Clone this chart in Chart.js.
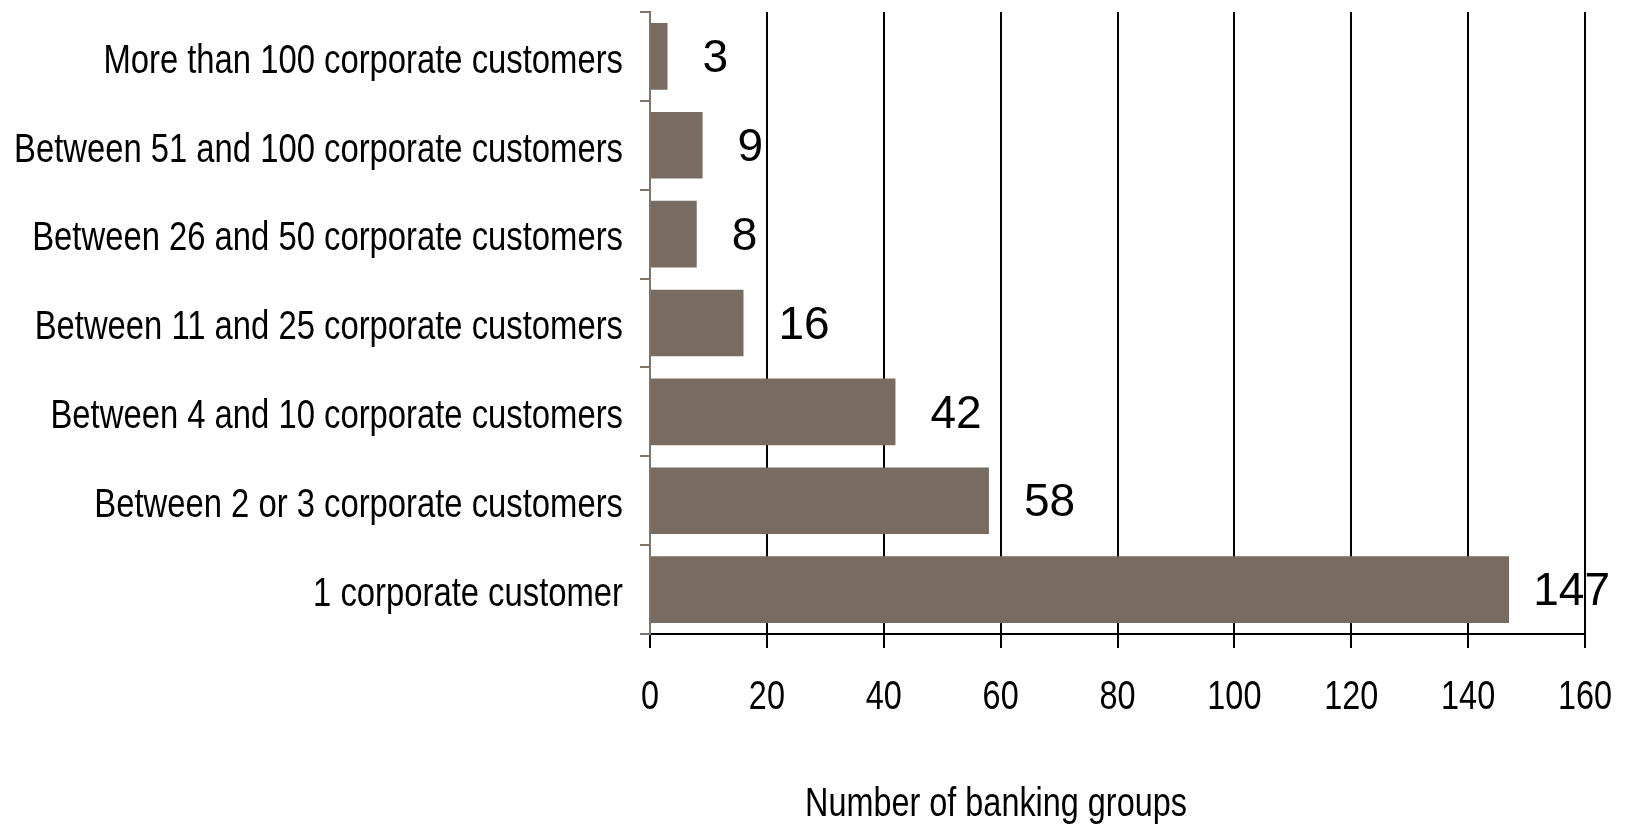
<!DOCTYPE html>
<html>
<head>
<meta charset="utf-8">
<script src="https://cdn.jsdelivr.net/npm/chart.js@4.4.1/dist/chart.umd.min.js"></script>
<style>
  html, body { margin: 0; padding: 0; background: #fff; }
  #wrap { width: 1628px; height: 828px; }
</style>
</head>
<body>
<div id="wrap"><canvas id="chart" width="1628" height="828"></canvas></div>
<script>
const categories = [
  'More than 100 corporate customers',
  'Between 51 and 100 corporate customers',
  'Between 26 and 50 corporate customers',
  'Between 11 and 25 corporate customers',
  'Between 4 and 10 corporate customers',
  'Between 2 or 3 corporate customers',
  '1 corporate customer'
];
const groupCounts = [3, 9, 8, 16, 42, 58, 147];
const xTicks = [0, 20, 40, 60, 80, 100, 120, 140, 160];
const xTitle = 'Number of banking groups';

const sans = "'Liberation Sans', Arial, sans-serif";
const barColor = '#786b62';
const axisGrey = '#7f736b';
const squeeze = 0.81; // no narrow face installed, so condense the axis text by hand

function narrowText(ctx, text, x, y, align, k) {
  ctx.save();
  ctx.translate(x, y);
  ctx.scale(k || squeeze, 1);
  ctx.textAlign = align;
  ctx.fillText(text, 0, 0);
  ctx.restore();
}

// axis text, value labels and the off-centre axis title
const extras = {
  id: 'extras',
  afterDatasetsDraw(chart) {
    const ctx = chart.ctx;
    const xs = chart.scales.x;
    const ys = chart.scales.y;
    const meta = chart.getDatasetMeta(0);
    ctx.save();
    ctx.fillStyle = '#000';
    ctx.textBaseline = 'middle';

    ctx.font = '41px ' + sans;
    categories.forEach((c, i) => {
      narrowText(ctx, c, ys.right - 27, ys.getPixelForTick(i) + 5, 'right', 0.8);
    });

    ctx.font = '40px ' + sans;
    xTicks.forEach(v => {
      narrowText(ctx, String(v), xs.getPixelForValue(v), 698, 'center');
    });
    narrowText(ctx, xTitle, 996, 805, 'center');

    ctx.font = '46px ' + sans;
    ctx.textAlign = 'left';
    meta.data.forEach((bar, i) => {
      const txt = String(groupCounts[i]);
      const w = ctx.measureText(txt).width;
      ctx.fillText(txt, Math.min(bar.x + 35, 1610 - w), bar.y + 3);
    });
    ctx.restore();
  }
};

new Chart(document.getElementById('chart'), {
  type: 'bar',
  data: {
    labels: categories,
    datasets: [{
      data: groupCounts,
      backgroundColor: barColor,
      borderWidth: 0,
      barPercentage: 0.75,
      categoryPercentage: 1
    }]
  },
  options: {
    indexAxis: 'y',
    responsive: false,
    devicePixelRatio: 1,
    animation: false,
    layout: { padding: { top: 12, right: 43, left: 0, bottom: 0 } },
    plugins: { legend: { display: false }, tooltip: { enabled: false } },
    scales: {
      x: {
        min: 0,
        max: 160,
        afterBuildTicks: s => { s.ticks = xTicks.map(v => ({ value: v })); },
        afterFit: s => { s.height = 194; },
        grid: { color: '#000', lineWidth: 2, tickLength: 14 },
        border: { display: true, color: '#000', width: 2 },
        ticks: { display: false }
      },
      y: {
        afterFit: s => { s.width = 650; },
        grid: { drawOnChartArea: false, color: axisGrey, lineWidth: 2, tickLength: 10, offset: true },
        border: { display: true, color: axisGrey, width: 2 },
        ticks: { display: false }
      }
    }
  },
  plugins: [extras]
});
</script>
</body>
</html>
